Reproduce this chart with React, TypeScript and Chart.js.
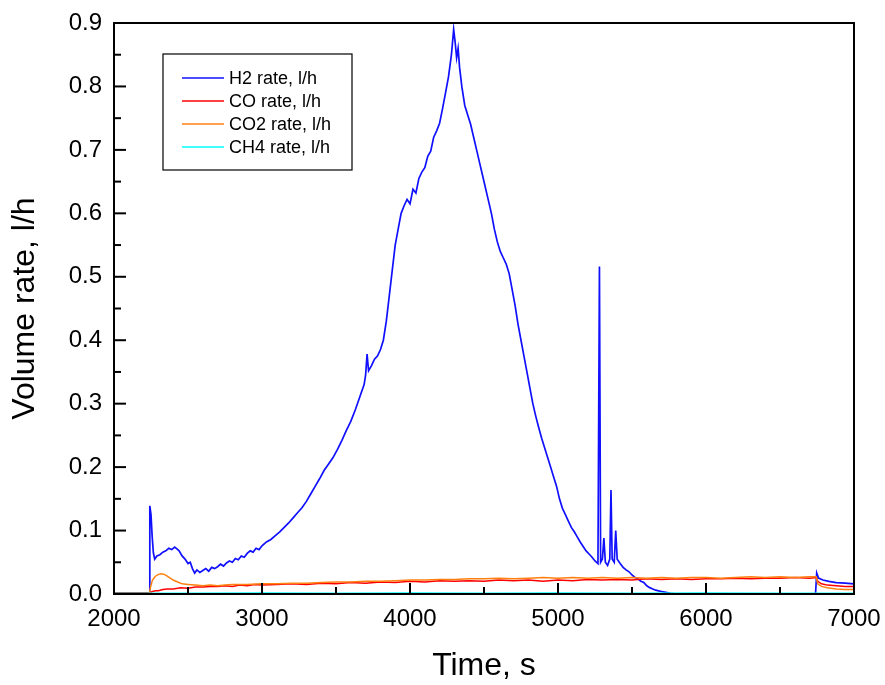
import React, { useEffect, useRef } from "react";
import { Chart, registerables } from "chart.js";

Chart.register(...registerables);

const FONT = "'Liberation Sans', Arial, Helvetica, sans-serif";

const seriesLabels = ["H2 rate, l/h", "CO rate, l/h", "CO2 rate, l/h", "CH4 rate, l/h"];
const seriesColors = ["#1010ff", "#ff0000", "#ff8010", "#00ffff"];
const seriesWidths = [1.7, 1.5, 1.5, 2];

const xTickLabels = ["2000", "3000", "4000", "5000", "6000", "7000"];
const yTickLabels = ["0.0", "0.1", "0.2", "0.3", "0.4", "0.5", "0.6", "0.7", "0.8", "0.9"];

const h2Time = [
  2000, 2238, 2242, 2250, 2258, 2266, 2275, 2290, 2310, 2330, 2350, 2370, 2390, 2410, 2425, 2440,
  2460, 2480, 2500, 2515, 2530, 2545, 2560, 2580, 2600, 2620, 2640, 2660, 2680, 2700, 2720, 2740,
  2760, 2780, 2800, 2820, 2840, 2860, 2880, 2900, 2920, 2940, 2960, 2980, 3000, 3030, 3060, 3090,
  3120, 3150, 3180, 3210, 3240, 3270, 3300, 3330, 3360, 3390, 3420, 3450, 3480, 3510, 3540, 3570,
  3600, 3630, 3660, 3690, 3700, 3710, 3720, 3740, 3760, 3780, 3800, 3820, 3840, 3860, 3880, 3900,
  3920, 3940, 3960, 3980, 4000, 4020, 4040, 4060, 4080, 4100, 4120, 4140, 4160, 4180, 4200, 4220,
  4240, 4260, 4280, 4295, 4305, 4315, 4325, 4335, 4350, 4370, 4390, 4410, 4430, 4450, 4470, 4490,
  4510, 4530, 4550, 4570, 4590, 4610, 4630, 4650, 4670, 4690, 4710, 4730, 4750, 4770, 4790, 4810,
  4830, 4850, 4870, 4890, 4910, 4930, 4950, 4970, 4990, 5010, 5030, 5050, 5070, 5090, 5110, 5130,
  5150, 5170, 5190, 5210, 5230, 5250, 5270, 5280, 5288, 5300, 5310, 5320, 5335, 5350, 5358, 5366,
  5380, 5390, 5400, 5420, 5440, 5460, 5480, 5500, 5520, 5540, 5560, 5580, 5600, 5620, 5640, 5660,
  5680, 5700, 5720, 5760, 5800, 6740, 6748, 6760, 6790, 6830, 6880, 6940, 7000,
];
const h2Rate = [
  0.0, 0.0, 0.139, 0.125, 0.09, 0.065, 0.055, 0.06, 0.062, 0.066, 0.068, 0.072, 0.07, 0.074, 0.071, 0.068,
  0.06, 0.055, 0.048, 0.05, 0.04, 0.033, 0.038, 0.034, 0.037, 0.04, 0.036, 0.042, 0.04, 0.043, 0.047, 0.044,
  0.049, 0.052, 0.05, 0.056, 0.054, 0.06, 0.058, 0.064, 0.068, 0.066, 0.072, 0.07, 0.076, 0.082, 0.086, 0.092,
  0.098, 0.105, 0.112, 0.12, 0.128, 0.136, 0.146, 0.158, 0.17, 0.182, 0.195, 0.205, 0.215, 0.228, 0.242, 0.258,
  0.272, 0.29, 0.31, 0.33, 0.345, 0.378, 0.352, 0.36, 0.37, 0.375, 0.385, 0.4, 0.43, 0.47, 0.51, 0.55,
  0.575, 0.6, 0.612, 0.622, 0.615, 0.638, 0.632, 0.655, 0.665, 0.672, 0.69, 0.698, 0.72, 0.73, 0.742, 0.765,
  0.79, 0.815, 0.85, 0.89, 0.87, 0.845, 0.86, 0.83, 0.8, 0.77, 0.755, 0.74, 0.72, 0.7, 0.68, 0.66,
  0.64, 0.62, 0.6, 0.575, 0.555, 0.54, 0.53, 0.52, 0.505, 0.48, 0.455, 0.425, 0.4, 0.375, 0.35, 0.325,
  0.3, 0.28, 0.262, 0.245, 0.23, 0.215, 0.2, 0.185, 0.17, 0.15, 0.135, 0.125, 0.115, 0.105, 0.098, 0.09,
  0.082, 0.075, 0.068, 0.063, 0.058, 0.052, 0.048, 0.516, 0.05, 0.055, 0.088, 0.05, 0.045, 0.055, 0.164, 0.055,
  0.05, 0.1, 0.055, 0.048, 0.042, 0.038, 0.035, 0.03, 0.026, 0.024, 0.02, 0.018, 0.013, 0.01, 0.008, 0.006,
  0.005, 0.004, 0.003, 0.001, 0.0, 0.0, 0.033, 0.025, 0.022, 0.02, 0.018, 0.017, 0.016,
];

const coTime = [
  2000, 2100, 2200, 2240, 2260, 2280, 2300, 2330, 2360, 2400, 2450, 2500, 2550, 2600, 2650, 2700,
  2750, 2800, 2850, 2900, 2950, 3000, 3100, 3200, 3300, 3400, 3500, 3600, 3700, 3800, 3900, 4000,
  4100, 4200, 4300, 4400, 4500, 4600, 4700, 4800, 4900, 5000, 5100, 5200, 5300, 5400, 5500, 5600,
  5700, 5800, 5900, 6000, 6100, 6200, 6300, 6400, 6500, 6600, 6700, 6745, 6755, 6780, 6820, 6880,
  6940, 7000,
];
const coRate = [
  0.002, 0.002, 0.002, 0.002, 0.004, 0.005, 0.005, 0.007, 0.008, 0.008, 0.01, 0.009, 0.011, 0.011, 0.012, 0.012,
  0.013, 0.012, 0.014, 0.013, 0.015, 0.014, 0.015, 0.016, 0.015, 0.017, 0.016, 0.018, 0.017, 0.019, 0.018, 0.02,
  0.019, 0.021, 0.02, 0.021, 0.02, 0.022, 0.021, 0.022, 0.02, 0.022, 0.021, 0.023, 0.022, 0.023, 0.022, 0.024,
  0.023, 0.024, 0.023, 0.024, 0.024, 0.025, 0.024, 0.025, 0.025, 0.026, 0.025, 0.026, 0.02, 0.016, 0.014, 0.013,
  0.012, 0.012,
];

const co2Time = [
  2000, 2100, 2200, 2238, 2248, 2260, 2280, 2300, 2320, 2340, 2360, 2380, 2400, 2430, 2460, 2500,
  2550, 2600, 2650, 2700, 2750, 2800, 2900, 3000, 3100, 3200, 3300, 3400, 3500, 3600, 3700, 3800,
  3900, 4000, 4100, 4200, 4300, 4400, 4500, 4600, 4700, 4800, 4900, 5000, 5100, 5200, 5300, 5400,
  5500, 5600, 5700, 5800, 5900, 6000, 6100, 6200, 6300, 6400, 6500, 6600, 6700, 6745, 6755, 6780,
  6820, 6880, 6940, 7000,
];
const co2Rate = [
  0.0, 0.0, 0.0, 0.0, 0.012, 0.022, 0.028, 0.031, 0.032, 0.031, 0.028, 0.025, 0.022, 0.019, 0.016, 0.015,
  0.014, 0.013, 0.014, 0.013, 0.014, 0.015, 0.015, 0.016, 0.016, 0.017, 0.017, 0.018, 0.019, 0.019, 0.02, 0.02,
  0.021, 0.022, 0.022, 0.023, 0.023, 0.024, 0.024, 0.025, 0.024, 0.025, 0.026, 0.025, 0.026, 0.025, 0.026, 0.025,
  0.026, 0.025, 0.026, 0.025, 0.026, 0.026, 0.025, 0.026, 0.027, 0.026, 0.027, 0.026, 0.027, 0.027, 0.016, 0.012,
  0.01, 0.008, 0.007, 0.007,
];

const ch4Time = [2000, 2500, 3000, 3500, 4000, 4500, 5000, 5500, 6000, 6500, 7000];
const ch4Rate = [0.0008, 0.0008, 0.001, 0.0008, 0.001, 0.0009, 0.001, 0.0009, 0.001, 0.0009, 0.0008];

const toPoints = (t: number[], v: number[]) => t.map((x, i) => ({ x, y: v[i] }));

const frameAndLegend = {
  id: "frameAndLegend",
  afterDraw(chart: any) {
    const { ctx, chartArea } = chart;
    const { left, right, top, bottom } = chartArea;
    const xs = chart.scales.x;
    const ys = chart.scales.y;
    ctx.save();
    ctx.strokeStyle = "#000";
    ctx.lineWidth = 2;
    const xVals = xs.ticks.map((t: any) => t.value);
    xVals.forEach((v: number, i: number) => {
      const px = xs.getPixelForValue(v);
      ctx.beginPath();
      ctx.moveTo(px, bottom);
      ctx.lineTo(px, bottom - 11);
      ctx.stroke();
      if (i < xVals.length - 1) {
        const mp = xs.getPixelForValue((v + xVals[i + 1]) / 2);
        ctx.beginPath();
        ctx.moveTo(mp, bottom);
        ctx.lineTo(mp, bottom - 7);
        ctx.stroke();
      }
    });
    const yVals = ys.ticks.map((t: any) => t.value);
    yVals.forEach((v: number, i: number) => {
      const py = ys.getPixelForValue(v);
      ctx.beginPath();
      ctx.moveTo(left, py);
      ctx.lineTo(left + 12, py);
      ctx.stroke();
      if (i < yVals.length - 1) {
        const mp = ys.getPixelForValue((v + yVals[i + 1]) / 2);
        ctx.beginPath();
        ctx.moveTo(left, mp);
        ctx.lineTo(left + 7, mp);
        ctx.stroke();
      }
    });
    ctx.strokeRect(left, top, right - left, bottom - top);

    const bx = left + 49;
    const by = top + 31;
    const bw = 189;
    const bh = 116;
    ctx.fillStyle = "#fff";
    ctx.fillRect(bx, by, bw, bh);
    ctx.lineWidth = 1.2;
    ctx.strokeStyle = "#000";
    ctx.strokeRect(bx, by, bw, bh);
    ctx.font = `18px ${FONT}`;
    ctx.textBaseline = "middle";
    ctx.textAlign = "left";
    chart.data.datasets.forEach((ds: any, i: number) => {
      const ry = by + 24 + i * 23;
      ctx.strokeStyle = ds.borderColor;
      ctx.lineWidth = 1.5;
      ctx.beginPath();
      ctx.moveTo(bx + 19, ry);
      ctx.lineTo(bx + 61, ry);
      ctx.stroke();
      ctx.fillStyle = "#000";
      ctx.fillText(ds.label, bx + 66, ry + 1);
    });
    ctx.restore();
  },
};

export default function App() {
  const ref = useRef<HTMLCanvasElement | null>(null);
  useEffect(() => {
    if (!ref.current) return;
    const series = [
      toPoints(h2Time, h2Rate),
      toPoints(coTime, coRate),
      toPoints(co2Time, co2Rate),
      toPoints(ch4Time, ch4Rate),
    ];
    const orders = [4, 3, 2, 1];
    const chart = new Chart(ref.current, {
      type: "line",
      data: {
        datasets: series.map((d, i) => ({
          label: seriesLabels[i],
          data: d,
          borderColor: seriesColors[i],
          backgroundColor: seriesColors[i],
          borderWidth: seriesWidths[i],
          pointRadius: 0,
          tension: 0,
          fill: false,
          order: orders[i],
        })),
      },
      options: {
        responsive: false,
        animation: false,
        layout: { padding: { top: 23, right: 31, left: 0, bottom: 0 } },
        plugins: { legend: { display: false }, tooltip: { enabled: false } },
        scales: {
          x: {
            type: "linear",
            min: 2000,
            max: 7000,
            grid: { display: false, drawTicks: false },
            border: { display: false },
            ticks: {
              stepSize: 1000,
              maxRotation: 0,
              padding: 11,
              color: "#000",
              font: { size: 24, family: FONT },
              callback: (v: any) => {
                const idx = Math.round((Number(v) - 2000) / 1000);
                return xTickLabels[idx] ?? String(v);
              },
            },
            title: {
              display: true,
              text: "Time, s",
              color: "#000",
              font: { size: 32, family: FONT },
              padding: { top: 0, bottom: 0 },
            },
            afterFit: (s: any) => {
              s.height = 91;
              s.paddingLeft = 0;
              s.paddingRight = 0;
            },
          },
          y: {
            type: "linear",
            min: 0,
            max: 0.9,
            grid: { display: false, drawTicks: false },
            border: { display: false },
            ticks: {
              stepSize: 0.1,
              padding: 12,
              color: "#000",
              font: { size: 24, family: FONT },
              callback: (v: any) => {
                const idx = Math.round(Number(v) * 10);
                return yTickLabels[idx] ?? Number(v).toFixed(1);
              },
            },
            title: {
              display: true,
              text: "Volume rate, l/h",
              color: "#000",
              font: { size: 32, family: FONT },
              padding: { top: 6, bottom: 0 },
            },
            afterFit: (s: any) => {
              s.width = 114;
              s.paddingTop = 0;
              s.paddingBottom = 0;
            },
          },
        },
      },
      plugins: [frameAndLegend],
    } as any);
    return () => chart.destroy();
  }, []);
  return (
    <div style={{ position: "fixed", left: 0, top: 0, width: 885, height: 685, background: "#fff" }}>
      <canvas ref={ref} width={885} height={685} style={{ display: "block" }} />
    </div>
  );
}
